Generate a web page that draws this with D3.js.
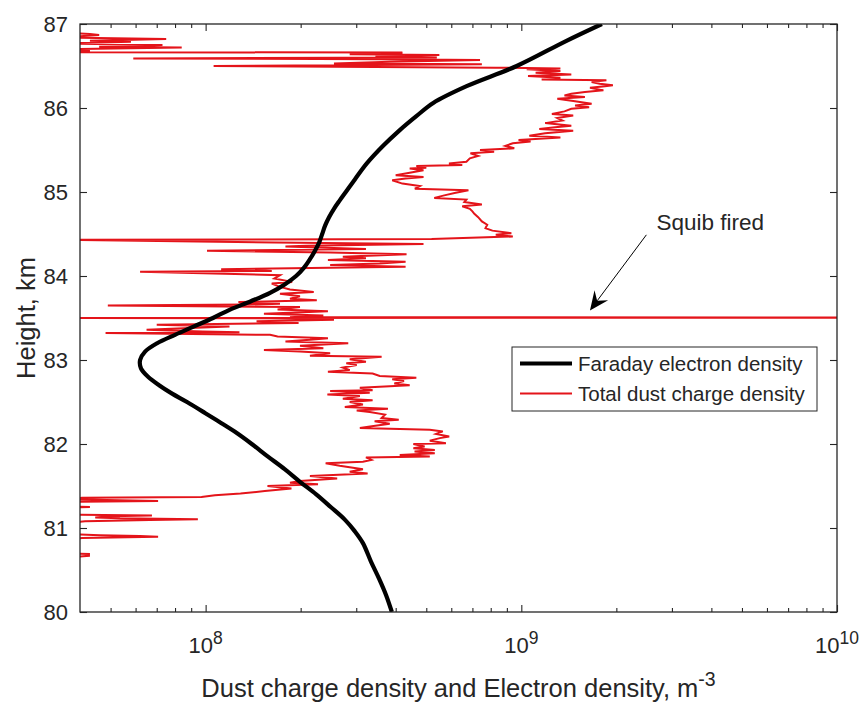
<!DOCTYPE html>
<html>
<head>
<meta charset="utf-8">
<script src="https://cdn.jsdelivr.net/npm/d3@7"></script>
<style>
  body { margin: 0; background: #fff; }
  text { font-family: Arial, "Liberation Sans", sans-serif; fill: #262626; }
</style>
</head>
<body>
<svg id="chart" width="862" height="702"></svg>
<script>
// Faraday electron density profile
const faradayHeight = [80.0, 80.2, 80.4, 80.6, 80.82, 80.96, 81.1, 81.25, 81.4, 81.55, 81.7, 81.85, 82.0, 82.13, 82.25, 82.37, 82.5, 82.6, 82.7, 82.8, 82.9, 83.0, 83.1, 83.2, 83.3, 83.4, 83.5, 83.6, 83.7, 83.8, 83.9, 84.0, 84.1, 84.2, 84.3, 84.4, 84.5, 84.6, 84.7, 84.8, 84.9, 85.0, 85.15, 85.34, 85.55, 85.74, 85.9, 86.06, 86.26, 86.5, 86.8, 87.0];
const faradayDensity = [3.89e8, 3.73e8, 3.54e8, 3.34e8, 3.15e8, 2.97e8, 2.76e8, 2.49e8, 2.24e8, 1.99e8, 1.78e8, 1.576e8, 1.4e8, 1.255e8, 1.119e8, 9.95e7, 8.73e7, 7.83e7, 7.12e7, 6.57e7, 6.24e7, 6.2e7, 6.43e7, 7.02e7, 8.0e7, 9.19e7, 1.055e8, 1.195e8, 1.392e8, 1.6e8, 1.78e8, 1.934e8, 2.05e8, 2.14e8, 2.22e8, 2.29e8, 2.34e8, 2.39e8, 2.46e8, 2.55e8, 2.66e8, 2.78e8, 2.97e8, 3.24e8, 3.65e8, 4.13e8, 4.64e8, 5.26e8, 6.71e8, 9.67e8, 1.39e9, 1.8e9];

// Total dust charge density (values below 4e7 / above 1e10 run off the axes)
const dustHeight = [80.64, 80.67, 80.69, 80.7, 80.86, 80.88, 80.895, 80.905, 80.915, 80.93, 81.06, 81.08, 81.095, 81.105, 81.115, 81.125, 81.14, 81.15, 81.16, 81.24, 81.25, 81.26, 81.31, 81.32, 81.33, 81.345, 81.36, 81.37, 81.39, 81.41, 81.44, 81.47, 81.5, 81.52, 81.54, 81.56, 81.59, 81.62, 81.65, 81.67, 81.7, 81.74, 81.77, 81.79, 81.81, 81.84, 81.85, 81.87, 81.89, 81.91, 81.93, 81.95, 81.97, 82.0, 82.01, 82.04, 82.07, 82.09, 82.12, 82.15, 82.17, 82.19, 82.21, 82.24, 82.27, 82.29, 82.31, 82.35, 82.38, 82.4, 82.42, 82.44, 82.47, 82.5, 82.52, 82.54, 82.57, 82.59, 82.61, 82.63, 82.64, 82.67, 82.7, 82.72, 82.75, 82.77, 82.79, 82.81, 82.84, 82.86, 82.88, 82.91, 82.94, 82.96, 82.98, 83.01, 83.04, 83.05, 83.08, 83.1, 83.12, 83.14, 83.17, 83.2, 83.22, 83.24, 83.26, 83.28, 83.3, 83.32, 83.33, 83.34, 83.36, 83.38, 83.4, 83.42, 83.44, 83.46, 83.48, 83.495, 83.5, 83.505, 83.51, 83.53, 83.55, 83.58, 83.6, 83.63, 83.65, 83.66, 83.67, 83.69, 83.71, 83.73, 83.76, 83.79, 83.81, 83.84, 83.87, 83.91, 83.93, 83.97, 84.01, 84.05, 84.06, 84.08, 84.11, 84.13, 84.15, 84.17, 84.19, 84.21, 84.23, 84.26, 84.28, 84.3, 84.32, 84.35, 84.36, 84.38, 84.4, 84.43, 84.44, 84.47, 84.49, 84.51, 84.54, 84.57, 84.61, 84.65, 84.7, 84.74, 84.77, 84.8, 84.83, 84.85, 84.88, 84.91, 84.93, 84.96, 84.99, 85.02, 85.04, 85.07, 85.1, 85.14, 85.16, 85.18, 85.2, 85.23, 85.26, 85.28, 85.29, 85.31, 85.32, 85.34, 85.36, 85.4, 85.43, 85.46, 85.48, 85.5, 85.52, 85.55, 85.58, 85.6, 85.62, 85.65, 85.67, 85.7, 85.73, 85.75, 85.77, 85.79, 85.82, 85.85, 85.88, 85.91, 85.93, 85.96, 85.99, 86.01, 86.03, 86.05, 86.08, 86.11, 86.13, 86.15, 86.17, 86.19, 86.21, 86.24, 86.26, 86.27, 86.29, 86.31, 86.33, 86.34, 86.36, 86.38, 86.4, 86.42, 86.44, 86.46, 86.47, 86.48, 86.5, 86.51, 86.52, 86.53, 86.55, 86.57, 86.58, 86.59, 86.6, 86.61, 86.63, 86.64, 86.65, 86.66, 86.665, 86.68, 86.7, 86.72, 86.73, 86.75, 86.77, 86.79, 86.8, 86.82, 86.84, 86.87, 86.88, 86.9];
const dustDensity = [3.5e7, 4.27e7, 4.27e7, 3.5e7, 3.5e7, 4.06e7, 7.07e7, 6.19e7, 4.63e7, 3.5e7, 3.5e7, 4.15e7, 6.66e7, 9.45e7, 5.35e7, 4.47e7, 4.98e7, 6.76e7, 3.5e7, 3.5e7, 4.3e7, 3.5e7, 3.5e7, 7.07e7, 5.35e7, 3.5e7, 4.06e7, 9.7e7, 1.07e8, 1.29e8, 1.54e8, 1.87e8, 1.57e8, 2.27e8, 1.85e8, 1.99e8, 2.61e8, 2.14e8, 3.26e8, 2.86e8, 3.15e8, 2.66e8, 2.4e8, 3.15e8, 3.35e8, 3.22e8, 5.13e8, 4.12e8, 5.32e8, 4.59e8, 5.32e8, 4.55e8, 4.94e8, 4.55e8, 5.77e8, 5.13e8, 5.52e8, 5.91e8, 5.37e8, 5.64e8, 5.13e8, 3.08e8, 3.36e8, 3.83e8, 3.43e8, 4.09e8, 3.61e8, 3.7e8, 3.31e8, 3.01e8, 3.78e8, 2.76e8, 3.15e8, 2.86e8, 3.38e8, 2.72e8, 3.08e8, 2.43e8, 3.31e8, 2.48e8, 3.38e8, 3.08e8, 4.43e8, 3.96e8, 4.25e8, 3.9e8, 4.65e8, 3.56e8, 3.38e8, 2.44e8, 2.86e8, 2.72e8, 3.01e8, 2.79e8, 3.22e8, 2.86e8, 3.61e8, 2.14e8, 2.48e8, 1.99e8, 1.53e8, 2.36e8, 1.99e8, 2.83e8, 1.79e8, 2.14e8, 2.44e8, 1.69e8, 1.6e8, 4.82e7, 1.28e8, 9.8e7, 6.5e7, 8.9e7, 1.19e8, 7.0e7, 1.97e8, 1.45e8, 2.55e8, 1.99e8, 3.5e7, 1e11, 1.85e8, 2.36e8, 1.53e8, 2.44e8, 1.69e8, 1.99e8, 4.9e7, 1.35e8, 1.72e8, 1.27e8, 2.25e8, 1.85e8, 1.99e8, 1.72e8, 2.2e8, 1.85e8, 1.72e8, 1.62e8, 1.88e8, 1.65e8, 1.72e8, 6.2e7, 1.62e8, 1.12e8, 4.3e8, 2.48e8, 3.56e8, 4.3e8, 2.44e8, 3.22e8, 2.72e8, 4.33e8, 2.48e8, 1.01e8, 3.22e8, 1.79e8, 2.08e8, 4.9e8, 1.65e8, 3.6e7, 5.2e8, 9.4e8, 8.3e8, 9.3e8, 8.1e8, 7.7e8, 7.8e8, 7.5e8, 7.3e8, 7.1e8, 7.0e8, 6.87e8, 6.5e8, 7.5e8, 6.6e8, 6.7e8, 5.3e8, 5.7e8, 6.2e8, 6.8e8, 4.6e8, 4.77e8, 4.2e8, 3.9e8, 4.3e8, 4.9e8, 4.0e8, 4.43e8, 4.9e8, 4.43e8, 5.0e8, 4.65e8, 6.5e8, 5.9e8, 6.7e8, 6.87e8, 7.3e8, 6.9e8, 8.2e8, 7.4e8, 9.5e8, 8.9e8, 9.4e8, 1.07e9, 9.8e8, 1.33e9, 1.06e9, 1.19e9, 1.46e9, 1.14e9, 1.28e9, 1.44e9, 1.19e9, 1.35e9, 1.3e9, 1.46e9, 1.25e9, 1.37e9, 1.44e9, 1.64e9, 1.48e9, 1.67e9, 1.48e9, 1.3e9, 1.59e9, 1.37e9, 1.44e9, 1.59e9, 1.82e9, 1.65e9, 1.84e9, 1.95e9, 1.77e9, 1.67e9, 1.86e9, 1.16e9, 1.33e9, 1.05e9, 1.44e9, 1.11e9, 1.33e9, 1.04e9, 1.33e9, 8.3e8, 1.06e8, 2.6e8, 7.5e8, 2.55e8, 3.83e8, 7.4e8, 3.56e8, 5.9e7, 5.4e8, 3.45e8, 5.5e8, 2.86e8, 4.12e8, 4.2e8, 3.6e7, 4.3e7, 3.5e7, 8.4e7, 4.6e7, 7.3e7, 3.5e7, 5.8e7, 4.3e7, 7.5e7, 3.5e7, 4.6e7, 4.3e7, 3.5e7];

const heightTicks = [80, 81, 82, 83, 84, 85, 86, 87];
const decadeTicks = [1e8, 1e9, 1e10];
const minorTicks = [5e7, 6e7, 7e7, 8e7, 9e7, 2e8, 3e8, 4e8, 5e8, 6e8, 7e8, 8e8, 9e8, 2e9, 3e9, 4e9, 5e9, 6e9, 7e9, 8e9, 9e9];
const seriesNames = ["Faraday electron density", "Total dust charge density"];
const seriesColors = ["#000000", "#e4141a"];

// annotation: arrow tail, arrow tip, text anchor (density, height)
const squibLabel = "Squib fired";
const squibTail = [2.49e9, 84.49];
const squibTip = [1.65e9, 83.59];
const squibText = [2.68e9, 84.55];

const margin = {left: 80, top: 24, right: 25, bottom: 90},
  width = 862 - margin.left - margin.right,
  height = 702 - margin.top - margin.bottom;

const x = d3.scaleLog().domain([4e7, 1e10]).range([0, width]);
const y = d3.scaleLinear().domain([80, 87]).range([height, 0]);

const svg = d3.select("#chart");
const g = svg.append("g").attr("transform", `translate(${margin.left},${margin.top})`);

g.append("clipPath").attr("id", "plotclip")
  .append("rect")
  .attr("width", width).attr("height", height);

function drawAxes() {
  const axisColor = "#262626";
  // ticks point inward on all four sides, matlab style
  const sides = [
    {gen: d3.axisBottom(x), at: `translate(0,${height})`},
    {gen: d3.axisTop(x), at: "translate(0,0)"}
  ];
  sides.forEach(s => {
    g.append("g").attr("transform", s.at)
      .call(s.gen.tickValues(decadeTicks).tickSize(-7).tickFormat(""))
      .call(a => a.select(".domain").remove());
    g.append("g").attr("transform", s.at)
      .call(s.gen.tickValues(minorTicks).tickSize(-4).tickFormat(""))
      .call(a => a.select(".domain").remove());
  });
  g.append("g")
    .call(d3.axisLeft(y).tickValues(heightTicks).tickSize(-7).tickFormat(""))
    .call(a => a.select(".domain").remove());
  g.append("g").attr("transform", `translate(${width},0)`)
    .call(d3.axisRight(y).tickValues(heightTicks).tickSize(-7).tickFormat(""))
    .call(a => a.select(".domain").remove());
  g.selectAll(".tick line").attr("stroke", axisColor).attr("stroke-width", 1.1);

  g.append("rect")
    .attr("width", width).attr("height", height)
    .attr("fill", "none").attr("stroke", axisColor).attr("stroke-width", 1.3);

  // tick labels
  g.selectAll(".ylab").data(heightTicks).enter()
    .append("text")
    .attr("x", -12).attr("y", d => y(d)).attr("dy", "0.36em")
    .attr("text-anchor", "end").style("font-size", "22px")
    .text(d => d);

  const xl = g.selectAll(".xlab").data(decadeTicks).enter()
    .append("text")
    .attr("x", d => x(d)).attr("y", height + 41)
    .attr("text-anchor", "middle").style("font-size", "22px");
  xl.append("tspan").text("10");
  xl.append("tspan").attr("dy", -9).style("font-size", "17.5px")
    .text(d => Math.round(Math.log10(d)));

  // axis titles
  const xt = g.append("text")
    .attr("x", width / 2).attr("y", height + 85)
    .attr("text-anchor", "middle").style("font-size", "25.5px");
  xt.append("tspan").text("Dust charge density and Electron density, m");
  xt.append("tspan").attr("dy", -11).style("font-size", "19.5px").text("-3");

  g.append("text")
    .attr("transform", `translate(-45,${height / 2}) rotate(-90)`)
    .attr("text-anchor", "middle").style("font-size", "25.5px")
    .text("Height, km");
}

function drawSeries() {
  const line = d3.line()
    .x(d => x(d[1]))
    .y(d => y(d[0]));

  const plot = g.append("g").attr("clip-path", "url(#plotclip)");

  plot.append("path")
    .datum(d3.zip(dustHeight, dustDensity))
    .attr("d", line)
    .attr("fill", "none")
    .attr("stroke", seriesColors[1])
    .attr("stroke-width", 2);

  plot.append("path")
    .datum(d3.zip(faradayHeight, faradayDensity))
    .attr("d", line.curve(d3.curveCatmullRom))
    .attr("fill", "none")
    .attr("stroke", seriesColors[0])
    .attr("stroke-width", 4.2);
}

function drawAnnotation() {
  const tail = [x(squibTail[0]), y(squibTail[1])],
    tip = [x(squibTip[0]), y(squibTip[1])];
  let dx = tail[0] - tip[0], dy = tail[1] - tip[1],
    len = Math.hypot(dx, dy);
  const u = [dx / len, dy / len], p = [-u[1], u[0]];
  const headLen = 19, headHalf = 8.5, notch = 12;

  g.append("line")
    .attr("x1", tail[0]).attr("y1", tail[1])
    .attr("x2", tip[0] + u[0] * notch).attr("y2", tip[1] + u[1] * notch)
    .attr("stroke", "#000").attr("stroke-width", 1);

  const pt = (a, b) => [tip[0] + u[0] * a + p[0] * b, tip[1] + u[1] * a + p[1] * b];
  g.append("path")
    .attr("d", "M" + [tip, pt(headLen, headHalf), pt(notch, 0), pt(headLen, -headHalf)].join("L") + "Z")
    .attr("fill", "#000");

  g.append("text")
    .attr("x", x(squibText[0])).attr("y", y(squibText[1]))
    .style("font-size", "22.5px")
    .text(squibLabel);
}

function drawLegend() {
  const lx = 512 - margin.left, ly = 347 - margin.top, lw = 305, lh = 64;
  const leg = g.append("g").attr("transform", `translate(${lx},${ly})`);
  leg.append("rect")
    .attr("width", lw).attr("height", lh)
    .attr("fill", "#fff").attr("stroke", "#262626").attr("stroke-width", 1);

  const rows = leg.selectAll(".row").data(seriesNames).enter()
    .append("g").attr("transform", (d, i) => `translate(0,${16.5 + i * 30})`);
  rows.append("line")
    .attr("x1", 8).attr("x2", 60)
    .attr("stroke", (d, i) => seriesColors[i])
    .attr("stroke-width", (d, i) => i == 0 ? 4.2 : 2);
  rows.append("text")
    .attr("x", 66).attr("dy", "0.35em")
    .style("font-size", "20.5px")
    .text(d => d);
}

drawSeries();
drawAxes();
drawAnnotation();
drawLegend();
</script>
</body>
</html>
